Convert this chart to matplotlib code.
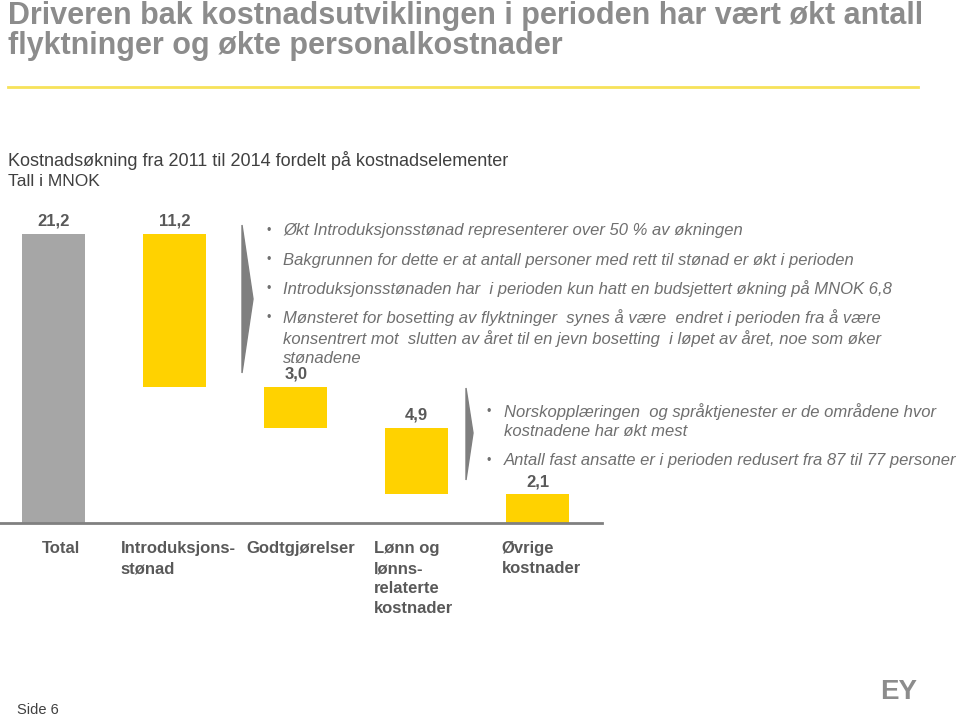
import matplotlib.pyplot as plt
from matplotlib.patches import Polygon
from matplotlib.lines import Line2D

plt.rcParams['font.family'] = ['Liberation Sans', 'DejaVu Sans']

# data (MNOK)
categories = ['Total', 'Introduksjons-\nstønad', 'Godtgjørelser',
              'Lønn og\nlønns-\nrelaterte\nkostnader', 'Øvrige\nkostnader']
total = 21.2
increments = [11.2, 3.0, 4.9, 2.1]
value_labels = ['21,2', '11,2', '3,0', '4,9', '2,1']

bullets_1 = [
    'Økt Introduksjonsstønad representerer over 50 % av økningen',
    'Bakgrunnen for dette er at antall personer med rett til stønad er økt i perioden',
    'Introduksjonsstønaden har  i perioden kun hatt en budsjettert økning på MNOK 6,8',
    'Mønsteret for bosetting av flyktninger  synes å være  endret i perioden fra å være\n'
    'konsentrert mot  slutten av året til en jevn bosetting  i løpet av året, noe som øker\n'
    'stønadene',
]
bullets_2 = [
    'Norskopplæringen  og språktjenester er de områdene hvor\nkostnadene har økt mest',
    'Antall fast ansatte er i perioden redusert fra 87 til 77 personer',
]

W, H = 960, 717
fig = plt.figure(figsize=(W / 100, H / 100), dpi=100)
fig.patch.set_facecolor('white')


def fx(x):
    return x / W


def fy(y):
    return 1 - y / H


# title
title_col = '#8c8c8c'
fig.text(fx(8), fy(24), 'Driveren bak kostnadsutviklingen i perioden har vært økt antall',
         fontsize=22, fontweight='bold', color=title_col, va='baseline', ha='left')
fig.text(fx(8), fy(54), 'flyktninger og økte personalkostnader',
         fontsize=22, fontweight='bold', color=title_col, va='baseline', ha='left')
fig.add_artist(Line2D([fx(8), fx(918)], [fy(87), fy(87)], color='#f7e25a', lw=2,
                      transform=fig.transFigure))

fig.text(fx(8), fy(161), 'Kostnadsøkning fra 2011 til 2014 fordelt på kostnadselementer',
         fontsize=13, color='#404040', va='center', ha='left')
fig.text(fx(8), fy(182), 'Tall i MNOK', fontsize=12.5, color='#404040', va='center', ha='left')

# waterfall chart
ax = fig.add_axes([0, fy(523), fx(602), 289 / H])
x = list(range(len(categories)))
bottoms = [0]
heights = [total]
level = total
for inc in increments:
    level -= inc
    bottoms.append(level)
    heights.append(inc)
colors = ['#a6a6a6'] + ['#ffd200'] * len(increments)
ax.bar(x, heights, bottom=bottoms, width=0.52, color=colors)
ax.set_xlim(-0.443, 4.53)
ax.set_ylim(0, total)
for s in ['top', 'right', 'left']:
    ax.spines[s].set_visible(False)
ax.spines['bottom'].set_color('#808080')
ax.spines['bottom'].set_linewidth(2)
ax.set_xticks([])
ax.set_yticks([])

for i in x:
    ax.annotate(value_labels[i], xy=(i, bottoms[i] + heights[i]), xytext=(0, 5),
                textcoords='offset pixels', ha='center', va='bottom',
                fontsize=12, fontweight='bold', color='#595959')

label_offsets = [7, -54, -49, -43, -36]
label_ha = ['center', 'left', 'left', 'left', 'left']
for i in x:
    ax.annotate(categories[i], xy=(i, 0), xycoords=('data', 'axes fraction'),
                xytext=(label_offsets[i], -18), textcoords='offset pixels',
                ha=label_ha[i], va='top', fontsize=12, fontweight='bold',
                color='#595959', linespacing=1.42, annotation_clip=False)

# chevrons
chev_col = '#7f7f7f'
fig.add_artist(Polygon([(fx(242), fy(225)), (fx(253), fy(299)), (fx(242), fy(373))],
                       closed=True, color=chev_col, transform=fig.transFigure))
fig.add_artist(Polygon([(fx(466), fy(388)), (fx(473), fy(433)), (fx(466), fy(480))],
                       closed=True, color=chev_col, transform=fig.transFigure))

# bullet text
txt_col = '#6f6f6f'


def bullet(x_dot, x_txt, y, txt):
    fig.text(fx(x_dot), fy(y), '•', fontsize=9, color=txt_col, va='center', ha='center')
    if '\n' in txt:
        fig.text(fx(x_txt), fy(y - 9), txt, fontsize=12, style='italic', color=txt_col,
                 va='top', ha='left', linespacing=1.3)
    else:
        fig.text(fx(x_txt), fy(y), txt, fontsize=12, style='italic', color=txt_col,
                 va='center', ha='left')


for txt, y in zip(bullets_1, [231, 260, 289, 318]):
    bullet(269, 283, y, txt)
for txt, y in zip(bullets_2, [412, 461]):
    bullet(489, 504, y, txt)

# footer
fig.text(fx(17), fy(710), 'Side 6', fontsize=10.5, color='#404040', va='center', ha='left')
fig.text(fx(917), fy(692), 'EY', fontsize=20, fontweight='bold', color='#8c8c8c',
         va='center', ha='right')

fig.savefig('out.png', dpi=100)
